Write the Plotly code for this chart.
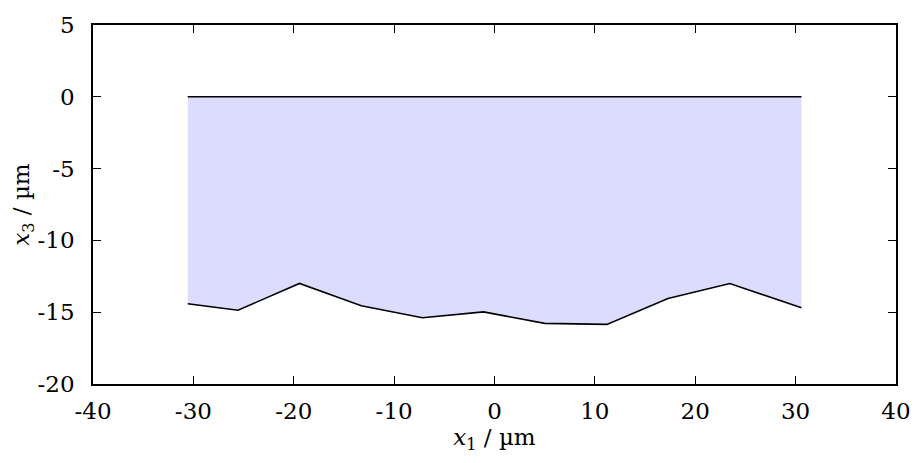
import plotly.graph_objects as go

# Data
x_nodes = [-30.56, -25.55, -19.43, -13.27, -7.18, -1.09, 5.0, 11.2, 17.28, 23.44, 30.58]
x3_bottom = [-14.41, -14.86, -13.0, -14.55, -15.39, -14.98, -15.78, -15.85, -14.04, -13.0, -14.69]
x3_top = [0.0] * len(x_nodes)

x_tickvals = [-40, -30, -20, -10, 0, 10, 20, 30, 40]
x_ticktext = ["-40", "-30", "-20", "-10", "0", "10", "20", "30", "40"]
y_tickvals = [-20, -15, -10, -5, 0, 5]
y_ticktext = ["-20", "-15", "-10", "-5", "0", "5"]

FONT = "'DejaVu Serif', 'Liberation Serif', serif"
FS = 23

fig = go.Figure()
fig.add_trace(go.Scatter(x=x_nodes, y=x3_top, mode="lines",
                         line=dict(color="black", width=1.6), showlegend=False,
                         hoverinfo="skip"))
fig.add_trace(go.Scatter(x=x_nodes, y=x3_bottom, mode="lines",
                         line=dict(color="black", width=1.6), fill="tonexty",
                         fillcolor="rgb(220,220,254)", showlegend=False))

axis_common = dict(showline=True, linecolor="black", linewidth=1.5, mirror="allticks",
                   ticks="inside", ticklen=8, tickwidth=1, tickcolor="black",
                   showgrid=False, zeroline=False,
                   tickfont=dict(family=FONT, size=FS, color="black"))

fig.update_layout(
    width=923, height=463,
    margin=dict(l=93, r=20, t=19, b=79),
    plot_bgcolor="white", paper_bgcolor="white",
    font=dict(family=FONT, size=FS, color="black"),
    xaxis=dict(range=[-40, 40], tickmode="array", tickvals=x_tickvals, ticktext=x_ticktext,
               ticklabelstandoff=6,
               title=dict(text="<i>x</i><sub>1</sub> / µm", font=dict(family=FONT, size=FS, color="black"),
                          standoff=2),
               **axis_common),
    yaxis=dict(range=[-20, 5], tickmode="array", tickvals=y_tickvals, ticktext=y_ticktext,
               ticklabelstandoff=12,
               title=dict(text="<i>x</i><sub>3</sub> / µm", font=dict(family=FONT, size=FS, color="black"),
                          standoff=0),
               **axis_common),
)

fig.write_html("out.html")
